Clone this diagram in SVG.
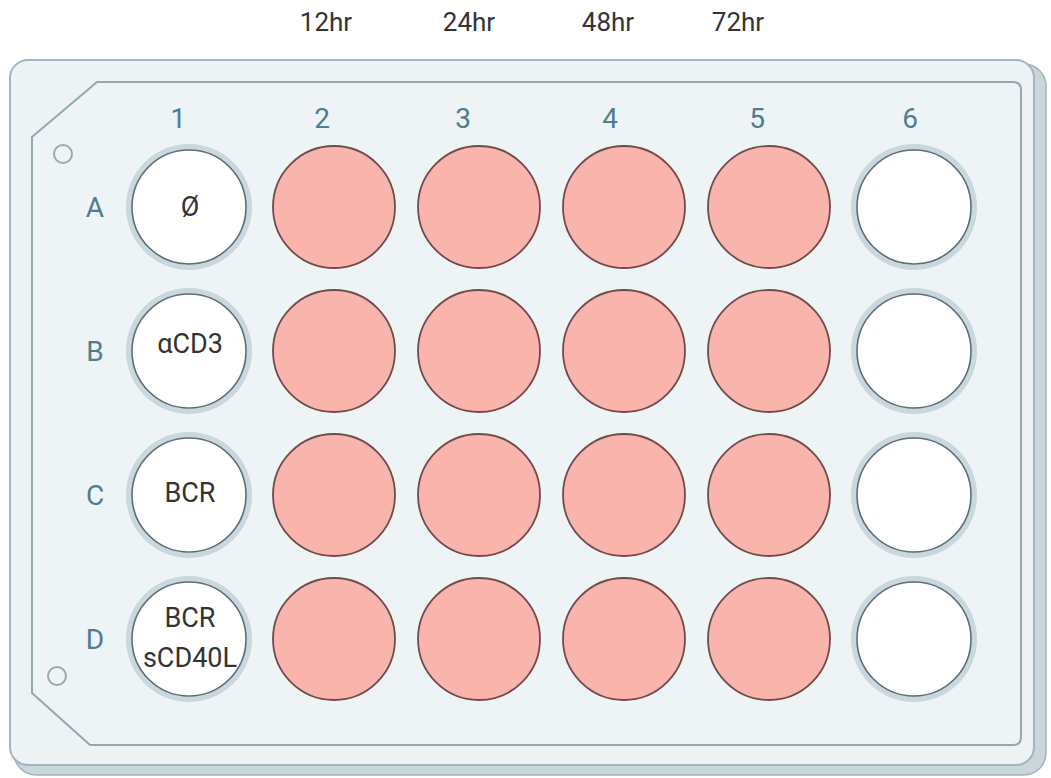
<svg xmlns="http://www.w3.org/2000/svg" width="1051" height="778" viewBox="0 0 1051 778">
<style>
.t{font-family:Roboto,"Liberation Sans",sans-serif;font-size:26px;fill:#333333;text-anchor:middle}
.lab{font-family:Roboto,"Liberation Sans",sans-serif;font-size:28px;fill:#4f7d8f;text-anchor:middle}
.wt{font-family:Roboto,"Liberation Sans",sans-serif;font-size:27px;fill:#333333;text-anchor:middle}
.pink{fill:#f9b4ab;stroke:#6e4c4a;stroke-width:1.8}
.ring{fill:#c9d8de}
.white{fill:#ffffff;stroke:#5f6d72;stroke-width:1.6}
.hole{fill:none;stroke:#9aa9af;stroke-width:2}
</style>
<rect width="1051" height="778" fill="#ffffff"/>
<g id="plate">
<rect x="14" y="64" width="1032" height="711" rx="22" fill="#c9d7dd" stroke="#a3b4bb" stroke-width="1.5"/>
<rect x="10" y="60" width="1024" height="705" rx="18" fill="#edf2f4" stroke="#a5b5bc" stroke-width="2"/>
<path d="M97,82 H1013 Q1021,82 1021,90 V737 Q1021,745 1013,745 H90 L32,693 V137 Z" fill="#eef3f6" stroke="#95a8b1" stroke-width="2"/>
<circle class="hole" cx="63" cy="154" r="9"/>
<circle class="hole" cx="57" cy="676" r="9"/>
</g>
<g id="time-labels">
<text class="t" x="326" y="31">12hr</text>
<text class="t" x="469" y="31">24hr</text>
<text class="t" x="608" y="31">48hr</text>
<text class="t" x="738" y="31">72hr</text>
</g>
<g id="col-labels">
<text class="lab" x="178" y="128">1</text>
<text class="lab" x="322" y="128">2</text>
<text class="lab" x="463" y="128">3</text>
<text class="lab" x="610" y="128">4</text>
<text class="lab" x="757" y="128">5</text>
<text class="lab" x="910" y="128">6</text>
</g>
<g id="row-labels">
<text class="lab" x="95" y="217">A</text>
<text class="lab" x="95" y="361">B</text>
<text class="lab" x="95" y="505">C</text>
<text class="lab" x="95" y="649">D</text>
</g>
<g id="col1">
<g id="A1"><circle class="ring" cx="189" cy="207" r="63"/><circle class="white" cx="189" cy="207" r="57"/><text class="wt" x="190" y="216">Ø</text></g>
<g id="B1"><circle class="ring" cx="189" cy="351" r="63"/><circle class="white" cx="189" cy="351" r="57"/><text class="wt" x="190" y="353">αCD3</text></g>
<g id="C1"><circle class="ring" cx="189" cy="495" r="63"/><circle class="white" cx="189" cy="495" r="57"/><text class="wt" x="190" y="502">BCR</text></g>
<g id="D1"><circle class="ring" cx="189" cy="639" r="63"/><circle class="white" cx="189" cy="639" r="57"/><text class="wt" x="190" y="627">BCR</text><text class="wt" x="190" y="667">sCD40L</text></g>
</g>
<g id="pink-wells">
<circle class="pink" cx="334" cy="207" r="61"/><circle class="pink" cx="479" cy="207" r="61"/><circle class="pink" cx="624" cy="207" r="61"/><circle class="pink" cx="769" cy="207" r="61"/>
<circle class="pink" cx="334" cy="351" r="61"/><circle class="pink" cx="479" cy="351" r="61"/><circle class="pink" cx="624" cy="351" r="61"/><circle class="pink" cx="769" cy="351" r="61"/>
<circle class="pink" cx="334" cy="495" r="61"/><circle class="pink" cx="479" cy="495" r="61"/><circle class="pink" cx="624" cy="495" r="61"/><circle class="pink" cx="769" cy="495" r="61"/>
<circle class="pink" cx="334" cy="639" r="61"/><circle class="pink" cx="479" cy="639" r="61"/><circle class="pink" cx="624" cy="639" r="61"/><circle class="pink" cx="769" cy="639" r="61"/>
</g>
<g id="col6">
<g id="A6"><circle class="ring" cx="914" cy="207" r="63"/><circle class="white" cx="914" cy="207" r="57"/></g>
<g id="B6"><circle class="ring" cx="914" cy="351" r="63"/><circle class="white" cx="914" cy="351" r="57"/></g>
<g id="C6"><circle class="ring" cx="914" cy="495" r="63"/><circle class="white" cx="914" cy="495" r="57"/></g>
<g id="D6"><circle class="ring" cx="914" cy="639" r="63"/><circle class="white" cx="914" cy="639" r="57"/></g>
</g>
</svg>
